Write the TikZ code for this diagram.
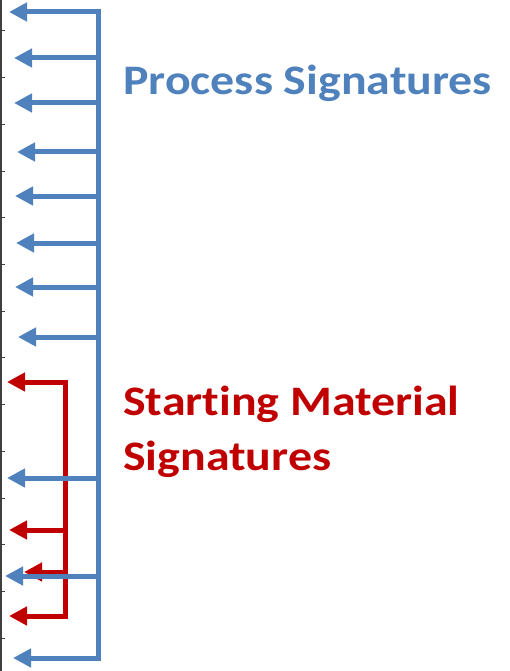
\documentclass[tikz,border=0pt]{standalone}
\usepackage{fontspec}
\setmainfont[FakeStretch=1.14, Ligatures={NoCommon,NoContextual}]{Carlito}
\usetikzlibrary{arrows.meta}
\definecolor{procblue}{RGB}{79,129,189}
\definecolor{matred}{RGB}{192,0,0}

\begin{document}
\begin{tikzpicture}[x=1pt,y=-1pt,
    sigline/.style={line width=5pt, line join=miter},
    tipped/.style={-{Triangle[length=18pt,width=18pt]}},
    twotip/.style={{Triangle[length=18pt,width=18pt]}-{Triangle[length=18pt,width=18pt]}},
    sigtext/.style={anchor=base west, inner sep=0pt, align=left,
        font=\bfseries\fontsize{42}{55}\selectfont}]
    \useasboundingbox (0,0) rectangle (510,671);

    \coordinate (axtop) at (1,0);
    \coordinate (axbot) at (1,671);
    \draw[black!75, line width=1.2pt] (axtop) -- (axbot);
    \foreach \y in {31,77.7,...,640}
        \draw[black!75, line width=1pt] (1,\y) -- (5,\y);

    % starting material branch (under the process one)
    \coordinate (mt) at (65,382);
    \coordinate (mb) at (65,616);
    \coordinate (m1) at (7,382);
    \coordinate (m4) at (9,616);
    \draw[sigline, matred, twotip] (m1) -- (mt) -- (mb) -- (m4);
    \foreach \y/\t [count=\i] in {530/9, 572/24} {
        \coordinate (mb\i) at (65,\y);
        \coordinate (mp\i) at (\t,\y);
        \draw[sigline, matred, tipped] (mb\i) -- (mp\i);
    }

    % process branch
    \coordinate (bt) at (98,12);
    \coordinate (bb) at (98,658);
    \coordinate (p1) at (9,12);
    \coordinate (p11) at (13,658);
    \draw[sigline, procblue, twotip] (p1) -- (bt) -- (bb) -- (p11);
    \foreach \y/\t [count=\i] in {58/14, 103/14, 152/17, 196/15, 243/16, 287/15, 337/18, 478/7, 576/5} {
        \coordinate (pb\i) at (98,\y);
        \coordinate (pp\i) at (\t,\y);
        \draw[sigline, procblue, tipped] (pb\i) -- (pp\i);
    }

    \node[sigtext, text=procblue] (proc) at (123,95) {Process Signatures};
    \node[sigtext, text=matred] (mat) at (123,470) {Starting Material\\Signatures};
\end{tikzpicture}
\end{document}
